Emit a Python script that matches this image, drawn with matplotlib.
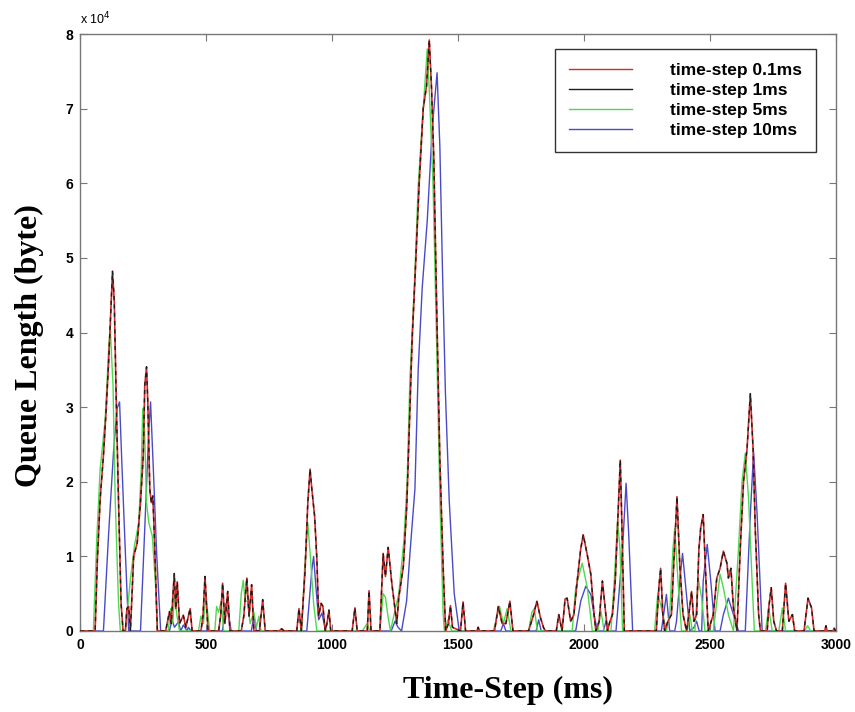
import matplotlib
matplotlib.use("Agg")
import matplotlib.pyplot as plt
from matplotlib.lines import Line2D

# ---------------- data (time in ms, queue length in units of 1e4 byte) ----------------
t_01ms = [0, 60, 69, 80, 93, 104, 113, 123, 129, 136, 144, 153, 163, 171, 180, 186, 193, 200,
          213, 227, 240, 251, 257, 264, 269, 277, 283, 289, 296, 307, 340, 355, 362, 374, 380,
          386, 395, 410, 420, 437, 445, 480, 488, 496, 508, 550, 558, 566, 575, 586, 595, 640,
          650, 662, 671, 681, 690, 712, 725, 735, 790, 800, 810, 860, 869, 878, 893, 904, 913,
          920, 931, 940, 947, 957, 964, 973, 980, 988, 995, 1080, 1091, 1100, 1140, 1147, 1155,
          1190, 1203, 1212, 1223, 1237, 1250, 1257, 1265, 1283, 1297, 1308, 1318, 1329, 1346,
          1362, 1375, 1386, 1395, 1404, 1415, 1428, 1441, 1451, 1462, 1470, 1478, 1510, 1520,
          1530, 1575, 1580, 1585, 1645, 1660, 1675, 1690, 1706, 1718, 1780, 1800, 1813, 1827,
          1840, 1848, 1890, 1900, 1913, 1925, 1933, 1947, 1960, 1973, 1987, 1997, 2013, 2027,
          2040, 2047, 2060, 2073, 2084, 2093, 2103, 2113, 2124, 2135, 2144, 2151, 2160, 2287,
          2297, 2304, 2313, 2320, 2333, 2347, 2356, 2369, 2380, 2393, 2407, 2416, 2427, 2436,
          2447, 2456, 2463, 2473, 2484, 2493, 2513, 2527, 2540, 2553, 2567, 2573, 2583, 2593,
          2607, 2620, 2633, 2647, 2660, 2671, 2680, 2693, 2700, 2727, 2733, 2743, 2753, 2764,
          2787, 2800, 2813, 2827, 2836, 2873, 2889, 2903, 2913, 2955, 2960, 2965, 2988, 2993,
          2998, 3000]
q_01ms = [0, 0, 0.96, 1.77, 2.35, 2.98, 3.56, 4.33, 4.82, 4.42, 3.07, 1.72, 0.37, 0, 0, 0.3,
          0.33, 0, 1.0, 1.18, 1.72, 2.35, 3.29, 3.54, 3.07, 1.9, 1.72, 1.81, 1.18, 0, 0, 0.26,
          0.1, 0.77, 0.3, 0.66, 0.1, 0.21, 0.05, 0.30, 0, 0, 0.2, 0.73, 0, 0, 0.2, 0.64, 0.1,
          0.53, 0, 0, 0.2, 0.71, 0.2, 0.62, 0, 0, 0.42, 0, 0, 0.03, 0, 0, 0.30, 0, 0.8, 1.72,
          2.17, 1.9, 1.54, 0.96, 0.2, 0.37, 0.33, 0, 0.1, 0.28, 0, 0, 0.31, 0, 0, 0.54, 0, 0,
          1.04, 0.73, 1.12, 0.65, 0.3, 0.1, 0.45, 0.86, 1.7, 2.84, 3.9, 4.7, 6.0, 7.0, 7.3,
          7.92, 7.27, 6.33, 4.4, 2.3, 0.86, 0, 0.1, 0.34, 0.05, 0, 0.39, 0, 0, 0.05, 0, 0, 0.33,
          0.1, 0.1, 0.40, 0, 0, 0.22, 0.40, 0.18, 0.04, 0, 0, 0.22, 0, 0.43, 0.44, 0.13, 0.22,
          0.67, 1.1, 1.29, 1.02, 0.76, 0.22, 0, 0.13, 0.67, 0.31, 0, 0.13, 0.22, 0.67, 1.56,
          2.29, 1.33, 0, 0, 0.58, 0.84, 0.22, 0, 0.13, 0.22, 0.89, 1.8, 0.89, 0.22, 0, 0.22,
          0.53, 0.13, 0.22, 1.1, 1.38, 1.56, 0.67, 0, 0.22, 0.71, 0.84, 1.07, 0.91, 0.71, 0.84,
          0.31, 0, 1.1, 2.0, 2.44, 3.18, 2.44, 1.33, 0.22, 0, 0, 0.31, 0.58, 0.13, 0, 0, 0.64,
          0.13, 0.22, 0, 0, 0.44, 0.31, 0, 0, 0.07, 0, 0, 0.04, 0, 0]

t_1ms = list(t_01ms)
q_1ms = list(q_01ms)

t_5ms = [0, 53, 67, 80, 100, 113, 120, 131, 140, 153, 160, 180, 200, 216, 233, 243, 249, 256,
         264, 273, 287, 300, 307, 350, 360, 368, 375, 385, 395, 470, 480, 490, 498, 505, 515,
         535, 542, 550, 560, 570, 630, 640, 648, 655, 665, 675, 690, 700, 710, 715, 720, 730,
         880, 891, 904, 913, 927, 940, 1120, 1140, 1150, 1190, 1203, 1212, 1222, 1232, 1245,
         1265, 1285, 1298, 1309, 1329, 1342, 1362, 1378, 1388, 1401, 1415, 1428, 1441, 1446,
         1460, 1475, 1640, 1655, 1665, 1680, 1695, 1710, 1780, 1793, 1803, 1815, 1953, 1967,
         1993, 2013, 2033, 2055, 2067, 2080, 2107, 2120, 2133, 2143, 2153, 2280, 2293, 2307,
         2327, 2340, 2353, 2360, 2373, 2387, 2410, 2420, 2430, 2440, 2453, 2467, 2480, 2513,
         2540, 2553, 2573, 2593, 2613, 2627, 2640, 2653, 2667, 2676, 2720, 2733, 2747, 2773,
         2787, 2800, 2875, 2887, 2900, 3000]
q_5ms = [0, 0, 1.27, 2.17, 2.84, 3.74, 4.06, 3.29, 1.72, 0.37, 0, 0, 0.69, 1.14, 1.45, 2.17,
         2.98, 2.71, 1.72, 1.45, 1.27, 0.6, 0, 0, 0.3, 0.1, 0.5, 0.2, 0, 0, 0.2, 0.1, 0.45, 0.3,
         0, 0, 0.33, 0.25, 0.4, 0, 0, 0.5, 0.68, 0.4, 0.4, 0.1, 0.25, 0.05, 0.2, 0.05, 0, 0,
         0, 0.82, 1.45, 1.05, 0.37, 0, 0, 0.1, 0, 0, 0.5, 0.45, 0.2, 0, 0.2, 0.5, 1.2, 2.0,
         3.36, 4.8, 5.97, 7.0, 7.8, 7.1, 5.97, 3.88, 1.8, 0.23, 0, 0.15, 0, 0, 0.2, 0.33, 0.1,
         0.3, 0, 0, 0.25, 0.3, 0, 0, 0.58, 0.91, 0.58, 0, 0, 0.27, 0, 0, 0.67, 1.47, 1.1, 0,
         0, 0.51, 0.31, 0, 0.22, 1.1, 1.38, 0.67, 0, 0, 0.22, 0, 0, 0.71, 0.44, 0, 0, 0.76,
         0.58, 0.22, 0, 1.1, 2.0, 2.38, 1.78, 0.67, 0, 0, 0.31, 0, 0, 0.31, 0, 0, 0.07, 0, 0]

t_10ms = [0, 93, 113, 133, 147, 157, 167, 180, 193, 240, 253, 264, 272, 280, 291, 304, 320,
          355, 365, 375, 390, 400, 410, 425, 430, 440, 565, 579, 595, 600, 610, 680, 690, 700,
          900, 920, 927, 936, 947, 960, 975, 1235, 1250, 1262, 1276, 1296, 1310, 1329, 1342,
          1358, 1378, 1398, 1417, 1428, 1438, 1450, 1465, 1485, 1505, 1670, 1680, 1690, 1810,
          1820, 1830, 1967, 1987, 2007, 2027, 2040, 2053, 2077, 2087, 2097, 2127, 2153, 2167,
          2177, 2193, 2307, 2327, 2340, 2360, 2367, 2380, 2391, 2404, 2420, 2437, 2447, 2457,
          2467, 2473, 2489, 2503, 2520, 2540, 2553, 2573, 2593, 2613, 2640, 2660, 2673, 2687,
          2707, 3000]
q_10ms = [0, 0, 1.27, 2.4, 2.98, 3.07, 2.17, 1.05, 0, 0, 1.05, 1.95, 2.62, 3.07, 2.17, 1.05,
          0, 0, 0.15, 0.05, 0.12, 0, 0.08, 0, 0.05, 0, 0, 0.37, 0.1, 0, 0, 0, 0.2, 0, 0, 0.82,
          1.0, 0.6, 0.15, 0.24, 0, 0, 0.13, 0.05, 0, 0.4, 1.07, 1.9, 3.5, 4.6, 5.5, 6.75, 7.48,
          6.49, 4.9, 3.2, 1.76, 0.5, 0, 0, 0.1, 0, 0, 0.15, 0, 0, 0.4, 0.6, 0.49, 0.22, 0, 0,
          0.13, 0, 0, 1.1, 1.98, 1.33, 0, 0, 0.49, 0, 0, 0.13, 0.67, 1.04, 0.58, 0, 0.05, 0.13,
          0, 0, 0.67, 1.16, 0.67, 0, 0, 0.22, 0.44, 0.22, 0, 0, 1.56, 2.4, 1.56, 0, 0]

labels = ["time-step 0.1ms", "time-step 1ms", "time-step 5ms", "time-step 10ms"]
colors = ["#d42a2a", "#1c1c1c", "#4fd84f", "#4a4ac8"]
x_ticks = [0, 500, 1000, 1500, 2000, 2500, 3000]
y_ticks = [0, 1, 2, 3, 4, 5, 6, 7, 8]
scale = 1e4

# ---------------- figure ----------------
fig = plt.figure(figsize=(8.55, 7.12), dpi=100)
ax = fig.add_axes([80 / 855, 81 / 712, 756 / 855, 597 / 712])

ax.plot(t_10ms, [v * scale for v in q_10ms], color=colors[3], lw=1.0, zorder=2)
ax.plot(t_5ms, [v * scale for v in q_5ms], color=colors[2], lw=1.0, zorder=3)
ax.plot(t_01ms, [v * scale for v in q_01ms], color=colors[0], lw=1.2, zorder=4)
ax.plot(t_1ms, [v * scale for v in q_1ms], color=colors[1], lw=1.0,
        dashes=(3, 3), zorder=5)

ax.set_xlim(0, 3000)
ax.set_ylim(0, 8 * scale)
ax.set_xticks(x_ticks)
ax.set_xticklabels([str(v) for v in x_ticks])
ax.set_yticks([v * scale for v in y_ticks])
ax.set_yticklabels([str(v) for v in y_ticks])

ax.tick_params(direction="in", length=5, width=0.8, color="#777777",
               top=True, right=True, labelsize=10, pad=5)
for lab in ax.get_xticklabels() + ax.get_yticklabels():
    lab.set_fontweight("bold")
    lab.set_family("Liberation Sans")
for s in ax.spines.values():
    s.set_color("#777777")
    s.set_linewidth(1.0)

ax.text(0.0, 1.012, r"x 10$^{4}$", transform=ax.transAxes, ha="left", va="bottom",
        fontsize=9, family="Liberation Sans")

handles = [Line2D([], [], color=c, lw=1.0) for c in colors]
leg = ax.legend(handles, labels, loc="upper right", bbox_to_anchor=(0.9735, 0.975),
                borderaxespad=0, fancybox=False, framealpha=1, edgecolor="#333333",
                handlelength=3.6, handletextpad=2.2, borderpad=0.8, labelspacing=0.28,
                prop={"family": "Liberation Sans", "weight": "bold", "size": 12.5})
leg.get_frame().set_linewidth(1.0)

fig.text(508 / 855, 1 - 690 / 712, "Time-Step (ms)", ha="center", va="center",
         fontsize=23, fontweight="bold", family="Liberation Serif")
fig.text(29 / 855, 1 - 346 / 712, "Queue Length (byte)", ha="center", va="center",
         rotation=90, fontsize=23, fontweight="bold", family="Liberation Serif")

fig.savefig("out.png", dpi=100)
